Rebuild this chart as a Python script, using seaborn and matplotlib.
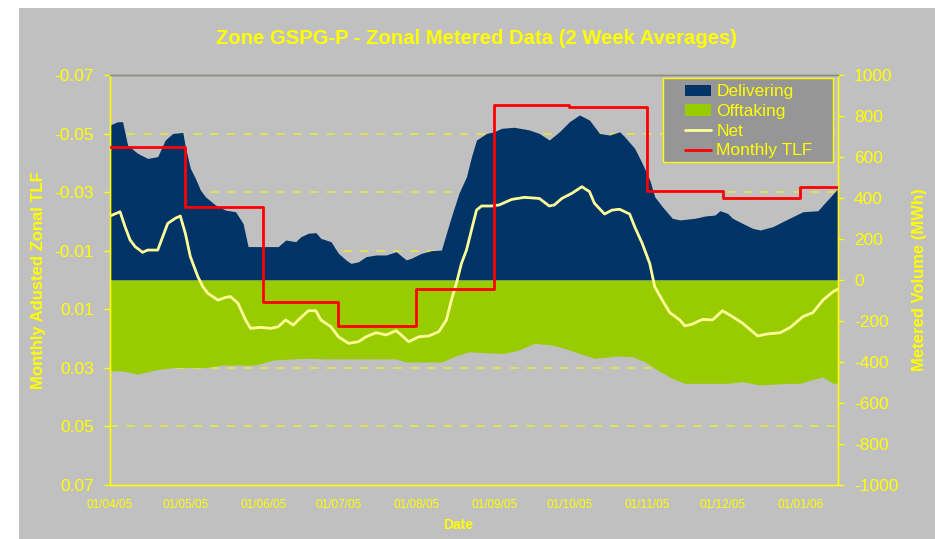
import numpy as np
import pandas as pd
import matplotlib
matplotlib.use("Agg")
import matplotlib.pyplot as plt
import matplotlib.dates as mdates
from matplotlib.patches import Patch, Rectangle
from matplotlib.lines import Line2D
import seaborn as sns

# ---------------- data ----------------
start_date = "2005-04-01"
end_day = 290  # last day shown (days after start)

deliver_days = [0, 3, 5, 6, 7, 11, 15, 19, 22, 25, 29, 30, 32, 34, 36, 38, 42, 46, 50, 53,
                55, 62, 67, 70, 74, 76, 79, 82, 84, 88, 91, 94, 96, 99, 102, 106, 110, 114, 118, 120,
                124, 128, 132, 134, 136, 139, 142, 144, 146, 150, 153, 156, 161, 167, 171, 175, 179, 183, 187, 191,
                195, 199, 203, 205, 209, 212, 215, 217, 220, 224, 227, 233, 237, 241, 243, 246, 248, 252, 256, 259,
                264, 268, 272, 276, 282, 284, 287, 290]
delivering = [756, 772, 772, 715, 658, 618, 593, 602, 683, 715, 720, 650, 545, 496, 439, 406, 366, 341, 333, 276,
              163, 163, 163, 195, 187, 211, 228, 231, 203, 187, 130, 98, 81, 89, 114, 122, 122, 138, 98, 106,
              130, 143, 146, 228, 309, 423, 504, 602, 683, 715, 723, 740, 745, 732, 715, 683, 723, 772, 805, 780,
              715, 707, 723, 699, 642, 569, 488, 406, 358, 301, 293, 301, 312, 317, 338, 325, 301, 276, 252, 244,
              260, 285, 309, 333, 338, 366, 406, 447]

offtake_days = [0, 5, 11, 18, 25, 38, 45, 58, 65, 78, 87, 114, 118, 127, 132, 137, 143, 151, 157, 163,
                169, 176, 181, 187, 193, 202, 208, 213, 218, 224, 229, 235, 246, 252, 259, 270, 275, 279, 284, 288,
                290]
offtaking = [-444, -444, -459, -439, -427, -427, -415, -415, -390, -382, -385, -385, -400, -400, -400, -374,
             -350, -356, -358, -341, -309, -317, -333, -358, -382, -371, -374, -398, -439, -480, -504, -504,
             -504, -496, -512, -504, -504, -488, -473, -504, -504]

net_days = [0, 4, 6, 8, 10, 13, 15, 19, 21, 23, 26, 28, 30, 32, 35, 37, 39, 43, 46, 48,
            51, 54, 56, 60, 64, 67, 70, 73, 75, 79, 82, 84, 88, 91, 95, 99, 102, 106, 110, 114,
            116, 119, 123, 127, 131, 134, 136, 138, 140, 142, 144, 146, 148, 152, 155, 160, 165, 171, 175, 177,
            180, 184, 188, 191, 193, 197, 200, 203, 207, 209, 212, 215, 217, 220, 223, 227, 229, 232, 236, 240,
            244, 248, 252, 258, 262, 267, 271, 276, 280, 284, 288, 290]
net = [312, 333, 260, 195, 163, 135, 146, 146, 211, 276, 301, 312, 228, 114, 16, -33, -65, -98, -85, -81,
       -114, -195, -236, -231, -236, -228, -195, -220, -195, -150, -150, -195, -228, -277, -309, -301, -277, -257, -268, -247,
       -268, -301, -277, -273, -252, -195, -98, -16, 81, 146, 244, 341, 361, 361, 366, 393, 403, 398, 361, 366,
       398, 423, 455, 431, 374, 322, 341, 345, 322, 260, 179, 81, -33, -98, -159, -195, -224, -215, -192, -195,
       -150, -179, -211, -273, -263, -257, -231, -179, -159, -98, -57, -45]

tlf_months = ["2005-04-01", "2005-05-01", "2005-06-01", "2005-07-01", "2005-08-01", "2005-09-01",
              "2005-10-01", "2005-11-01", "2005-12-01", "2006-01-01"]
monthly_tlf = [-0.0455, -0.0249, 0.0075, 0.0156, 0.0030, -0.0598, -0.0592, -0.0305, -0.0281, -0.0317]

tlf_ticks = [-0.07, -0.05, -0.03, -0.01, 0.01, 0.03, 0.05, 0.07]
tlf_ticklabels = ["-0.07", "-0.05", "-0.03", "-0.01", "0.01", "0.03", "0.05", "0.07"]
vol_ticks = list(range(-1000, 1001, 200))

title = "Zone GSPG-P - Zonal Metered Data (2 Week Averages)"
legend_labels = ["Delivering", "Offtaking", "Net", "Monthly TLF"]

# ---------------- styling ----------------
BG = "#C0C0C0"
YEL = "#FFFF00"
NAVY = "#003366"
GREEN = "#99CC00"
NETC = "#FFFF99"
RED = "#FF0000"

sns.set_style("white")
plt.rcParams["font.family"] = ["Liberation Sans", "DejaVu Sans"]

base = pd.Timestamp(start_date)
def to_dates(days):
    return base + pd.to_timedelta(np.asarray(days), unit="D")

d_del = to_dates(deliver_days)
d_off = to_dates(offtake_days)
d_net = to_dates(net_days)
tlf_dates = list(pd.to_datetime(tlf_months)) + [base + pd.Timedelta(days=end_day)]
tlf_vals = monthly_tlf + [monthly_tlf[-1]]

fig = plt.figure(figsize=(9.35, 5.39), dpi=100, facecolor="white")
fig.patches.append(Rectangle((19 / 935, 0), 1 - 19 / 935, (539 - 8) / 539,
                             transform=fig.transFigure, facecolor=BG, edgecolor="none", zorder=-10))

ax = fig.add_axes([110 / 935, (539 - 485) / 539, 728 / 935, 410 / 539])
ax.set_facecolor(BG)
ax2 = ax.twinx()

# areas and net line on the volume axis
ax.fill_between(d_del, 0, delivering, color=NAVY, linewidth=0, zorder=2)
ax.fill_between(d_off, 0, offtaking, color=GREEN, linewidth=0, zorder=2)
net_df = pd.DataFrame({"date": d_net, "net": net})
sns.lineplot(data=net_df, x="date", y="net", ax=ax, color=NETC, linewidth=2, zorder=3)

# monthly TLF on the (inverted) TLF axis
tlf_df = pd.DataFrame({"date": tlf_dates, "tlf": tlf_vals})
sns.lineplot(data=tlf_df, x="date", y="tlf", ax=ax2, color=RED, linewidth=2,
             drawstyle="steps-post", zorder=4)

ax.set_ylim(-1000, 1000)
ax2.set_ylim(0.07, -0.07)
ax.set_xlim(base, base + pd.Timedelta(days=end_day))

# dashed gridlines at TLF ticks (behind the areas)
for t in tlf_ticks[1:-1]:
    ax.plot([0, 1], [t, t], transform=ax2.get_yaxis_transform(), color="#E6E64A",
            linestyle=(0, (5, 5)), linewidth=1.2, zorder=1)

# axes placement: volume on right, TLF on left
ax.yaxis.tick_right()
ax.yaxis.set_label_position("right")
ax2.yaxis.tick_left()
ax2.yaxis.set_label_position("left")

ax.set_yticks(vol_ticks)
ax.set_yticklabels([str(v) for v in vol_ticks])
ax2.set_yticks(tlf_ticks)
ax2.set_yticklabels(tlf_ticklabels)

ax.xaxis.set_major_locator(mdates.MonthLocator())
ax.xaxis.set_major_formatter(mdates.DateFormatter("%d/%m/%y"))

ax.tick_params(axis="y", colors=YEL, labelsize=12.5, length=4.5, width=1, direction="out",
               left=False, right=True, labelleft=False, labelright=True, pad=7)
ax2.tick_params(axis="y", colors=YEL, labelsize=12.5, length=4.5, width=1, direction="out",
                left=True, right=False, labelleft=True, labelright=False, pad=7)
ax.tick_params(axis="x", colors=YEL, labelsize=8.5, length=3, width=1, direction="in", pad=10)
ax2.tick_params(axis="x", bottom=False, top=False, labelbottom=False)

for a in (ax, ax2):
    for side in ("left", "right", "bottom"):
        a.spines[side].set_color(YEL)
        a.spines[side].set_linewidth(1)
    a.spines["top"].set_color("#8C8C7A")
    a.spines["top"].set_linewidth(1)

ax.set_xlabel("Date", color=YEL, fontsize=10, fontweight="bold", labelpad=5)
ax.set_ylabel("Metered Volume (MWh)", color=YEL, fontsize=12, fontweight="bold",
              rotation=90, labelpad=10)
ax2.set_ylabel("Monthly Adusted Zonal TLF", color=YEL, fontsize=12, fontweight="bold", labelpad=6)
ax.xaxis.label.set_position((0.478, 0))

fig.text(477 / 935, 1 - 39 / 539, title, color=YEL, fontsize=14.6, fontweight="bold",
         ha="center", va="center")

# legend frame (asymmetric padding like the reference)
ax2.add_patch(Rectangle((0.7596, 0.7878), 0.2335, 0.2049, transform=ax2.transAxes,
                        facecolor="#969696", edgecolor=YEL, linewidth=1, zorder=5))
handles = [Patch(facecolor=NAVY, edgecolor="none"),
           Patch(facecolor=GREEN, edgecolor="none"),
           Line2D([], [], color=NETC, linewidth=2),
           Line2D([], [], color=RED, linewidth=2)]
leg = ax2.legend(handles, legend_labels, loc="upper left", bbox_to_anchor=(0.7898, 0.977),
                 borderaxespad=0, fontsize=12.5, frameon=False,
                 handlelength=1.5, handleheight=0.65, handletextpad=0.3,
                 labelspacing=0.27, borderpad=0)
leg.set_zorder(6)
for txt in leg.get_texts():
    txt.set_color(YEL)

fig.savefig("out.png", dpi=100, facecolor=fig.get_facecolor())
